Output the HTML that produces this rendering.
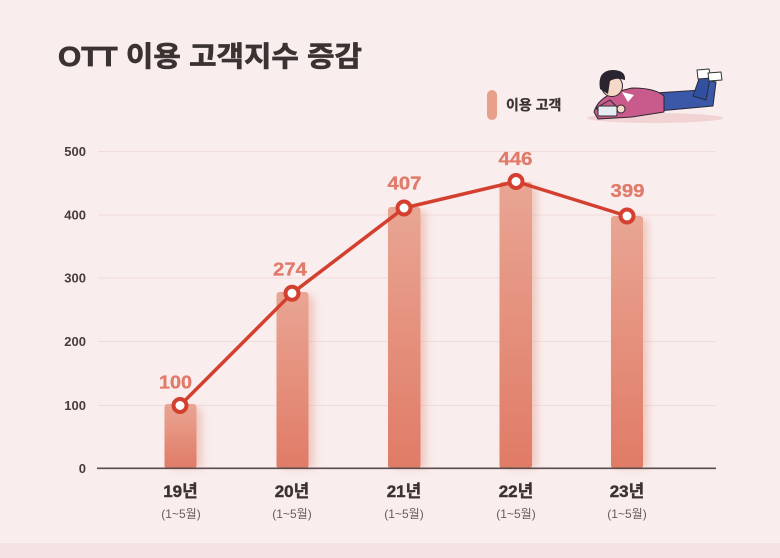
<!DOCTYPE html>
<html>
<head>
<meta charset="utf-8">
<style>
html,body{margin:0;padding:0;background:#f9eded;}
svg{display:block;}
</style>
</head>
<body>
<svg width="780" height="558" viewBox="0 0 780 558" xmlns="http://www.w3.org/2000/svg">
  <defs>
    <linearGradient id="bg1" x1="0" y1="0" x2="0" y2="1">
      <stop offset="0" stop-color="#e9a593"/>
      <stop offset="1" stop-color="#e07b66"/>
    </linearGradient>
    <filter id="sh" x="-50%" y="-10%" width="200%" height="120%">
      <feGaussianBlur stdDeviation="4"/>
    </filter>
  </defs>

  <rect x="0" y="0" width="780" height="558" fill="#f9eded"/>
  <rect x="0" y="543" width="780" height="15" fill="#f5e2e2"/>

  <!-- Title -->
  <text x="58" y="66" font-family="'Liberation Sans','Noto Sans CJK KR',sans-serif" font-weight="700" font-size="28" fill="#3b3232" stroke="#3b3232" stroke-width="0.7" textLength="304" lengthAdjust="spacingAndGlyphs">OTT 이용 고객지수 증감</text>

  <!-- Legend -->
  <rect x="487" y="90" width="10" height="30" rx="5" fill="#e8a08c"/>
  <text x="506" y="110" font-family="'Liberation Sans','Noto Sans CJK KR',sans-serif" font-weight="700" font-size="14" fill="#3b3232" stroke="#3b3232" stroke-width="0.3">이용 고객</text>

  <!-- Illustration -->
  <g stroke-linejoin="round">
    <ellipse cx="655" cy="118" rx="68" ry="5" fill="#f1d3d3"/>
    <!-- legs -->
    <path d="M655 93 L702 90 L706 80 L716 82 L713 106 L658 111 Z" fill="#3a57a8" stroke="#2a2a3a" stroke-width="1"/>
    <path d="M693 96 L700 76 L710 78 L706 100 Z" fill="#3150a0" stroke="#2a2a3a" stroke-width="1"/>
    <!-- shoes -->
    <path d="M697 70 L709 69 L711 78 L698 79 Z" fill="#ffffff" stroke="#333" stroke-width="1"/>
    <path d="M708 73 L721 72 L722 80 L709 81 Z" fill="#ffffff" stroke="#333" stroke-width="1"/>
    <!-- sweater -->
    <path d="M594 112 Q598 98 616 92 L632 88 Q655 88 664 96 L664 112 L632 117 L598 119 Z" fill="#c95b8c" stroke="#2e2630" stroke-width="1"/>
    <!-- collar -->
    <path d="M622 92 L634 95 L628 102 Z" fill="#ffffff"/>
    <!-- head -->
    <circle cx="612" cy="86" r="10.5" fill="#f6d8c6" stroke="#2e2630" stroke-width="1"/>
    <path d="M600 89 Q597 71 612 70 Q626 70 625 80 Q616 77 610 81 L608 94 Z" fill="#2a2430"/>
    <!-- arm -->
    <path d="M596 108 L610 100 L616 106 L602 115 Z" fill="#c95b8c" stroke="#2e2630" stroke-width="1"/>
    <!-- tablet -->
    <rect x="598" y="106" width="19" height="10" rx="1.5" fill="#e6edf2" stroke="#333" stroke-width="1"/>
    <circle cx="621" cy="109" r="4" fill="#f6d8c6" stroke="#2e2630" stroke-width="1"/>
  </g>

  <!-- Gridlines -->
  <g stroke="#f1dcd9" stroke-width="1">
    <line x1="98" y1="151.5" x2="716" y2="151.5"/>
    <line x1="98" y1="215" x2="716" y2="215"/>
    <line x1="98" y1="278" x2="716" y2="278"/>
    <line x1="98" y1="341.5" x2="716" y2="341.5"/>
    <line x1="98" y1="405.5" x2="716" y2="405.5"/>
  </g>

  <!-- Y labels -->
  <g font-family="'Liberation Sans',sans-serif" font-weight="700" font-size="13" fill="#4a3c3c" text-anchor="end">
    <text x="86" y="156">500</text>
    <text x="86" y="219.5">400</text>
    <text x="86" y="282.5">300</text>
    <text x="86" y="346">200</text>
    <text x="86" y="410">100</text>
    <text x="86" y="473">0</text>
  </g>

  <!-- Bar shadows -->
  <g fill="#e49a88" opacity="0.45" filter="url(#sh)">
    <rect x="170" y="408" width="32" height="60"/>
    <rect x="282" y="296" width="32" height="172"/>
    <rect x="394" y="211" width="32" height="257"/>
    <rect x="505" y="186" width="32" height="282"/>
    <rect x="616" y="219" width="32" height="249"/>
  </g>

  <!-- Bars -->
  <g>
    <rect x="164.5" y="404" width="32" height="64.5" rx="3" fill="url(#bg1)"/>
    <rect x="276.5" y="292" width="32" height="176.5" rx="3" fill="url(#bg1)"/>
    <rect x="388" y="207" width="32.5" height="261.5" rx="3" fill="url(#bg1)"/>
    <rect x="499.5" y="182" width="32.5" height="286.5" rx="3" fill="url(#bg1)"/>
    <rect x="611" y="216" width="32" height="252.5" rx="3" fill="url(#bg1)"/>
  </g>

  <!-- Axis -->
  <line x1="97" y1="468.3" x2="716" y2="468.3" stroke="#5b4d4d" stroke-width="1.6"/>

  <!-- Line -->
  <polyline points="180,405.5 292,293.3 404,208 516,181.5 627,216" fill="none" stroke="#d3402f" stroke-width="3.5" stroke-linejoin="round"/>
  <g fill="#ffffff" stroke="#d3402f" stroke-width="4">
    <circle cx="180" cy="405.5" r="6.5"/>
    <circle cx="292" cy="293.3" r="6.5"/>
    <circle cx="404" cy="208" r="6.5"/>
    <circle cx="516" cy="181.5" r="6.5"/>
    <circle cx="627" cy="216" r="6.5"/>
  </g>

  <!-- Value labels -->
  <g font-family="'Liberation Sans',sans-serif" font-weight="700" font-size="18" fill="#e07b6b" stroke="#e07b6b" stroke-width="0.3" text-anchor="middle">
    <text x="175.5" y="388.5" textLength="33" lengthAdjust="spacingAndGlyphs">100</text>
    <text x="290" y="275.5" textLength="34" lengthAdjust="spacingAndGlyphs">274</text>
    <text x="404.5" y="189.5" textLength="34" lengthAdjust="spacingAndGlyphs">407</text>
    <text x="515.5" y="165" textLength="34" lengthAdjust="spacingAndGlyphs">446</text>
    <text x="627.5" y="197" textLength="34" lengthAdjust="spacingAndGlyphs">399</text>
  </g>

  <!-- X labels -->
  <g font-family="'Liberation Sans','Noto Sans CJK KR',sans-serif" text-anchor="middle">
    <g font-weight="700" font-size="17" fill="#3b3232" stroke="#3b3232" stroke-width="0.4">
      <text x="180.5" y="497">19년</text>
      <text x="292" y="497">20년</text>
      <text x="404" y="497">21년</text>
      <text x="516" y="497">22년</text>
      <text x="627" y="497">23년</text>
    </g>
    <g font-size="12" fill="#6a5a5a">
      <text x="181" y="518">(1~5월)</text>
      <text x="292" y="518">(1~5월)</text>
      <text x="404" y="518">(1~5월)</text>
      <text x="516" y="518">(1~5월)</text>
      <text x="627" y="518">(1~5월)</text>
    </g>
  </g>
</svg>
</body>
</html>
